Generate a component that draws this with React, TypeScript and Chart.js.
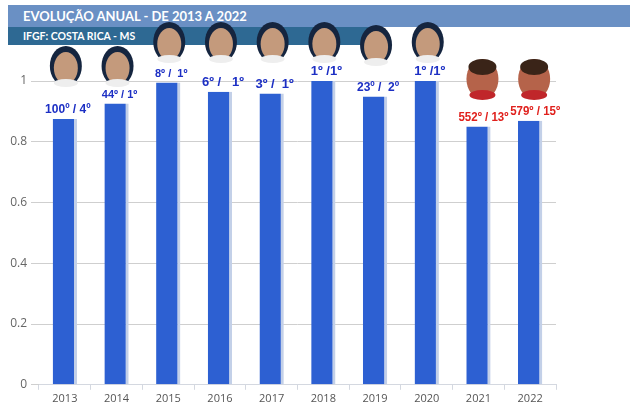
import { Chart, registerables, type ChartOptions, type Plugin } from 'chart.js';
import { type FC, useEffect, useRef } from 'react';

Chart.register(...registerables);

const years = ['2013', '2014', '2015', '2016', '2017', '2018', '2019', '2020', '2021', '2022'];
const ifgf = [0.875, 0.926, 0.995, 0.965, 0.959, 1.0, 0.949, 1.0, 0.85, 0.869];
const rankings = ['100º / 4º', '44º / 1º', '8º /  1º', '6º /   1º', '3º /  1º', '1º /1º', '23º /  2º', '1º /1º', '552º / 13º', '579º / 15º'];
const rankSizes = [12, 11, 11, 13, 13, 13, 12, 13, 13.5, 13.5];
const rankColors = ['#1c2fc4', '#1c2fc4', '#1c2fc4', '#1c2fc4', '#1c2fc4', '#1c2fc4', '#1c2fc4', '#1c2fc4', '#e0201c', '#e0201c'];
// linha dos retratos (decoração)
const faceRows = [66, 66, 42, 42, 42, 42, 45, 42, 79, 79];
const faceKinds = ['a', 'a', 'a', 'a', 'a', 'a', 'a', 'a', 'b', 'b'];

const rankLabels: Plugin<'bar'> = {
  id: 'rankLabels',
  afterDatasetsDraw(chart) {
    const { ctx } = chart;
    const meta = chart.getDatasetMeta(0);
    ctx.save();
    ctx.textAlign = 'center';
    ctx.textBaseline = 'bottom';
    meta.data.forEach((bar, i) => {
      ctx.font = `bold ${rankSizes[i]}px "Liberation Sans", Arial, sans-serif`;
      ctx.fillStyle = rankColors[i];
      // os rótulos vermelhos são mais estreitos no original
      ctx.fillText(rankings[i], bar.x + (i > 7 ? 5 : 3), bar.y - 3, 50);
    });
    ctx.restore();
  },
};

const faces: Plugin<'bar'> = {
  id: 'faces',
  afterDraw(chart) {
    const { ctx } = chart;
    const meta = chart.getDatasetMeta(0);
    ctx.save();
    meta.data.forEach((bar, i) => {
      const cx = bar.x + (i > 7 ? 4 : 1);
      const cy = faceRows[i];
      ctx.beginPath();
      ctx.ellipse(cx, cy, 16, 20, 0, 0, Math.PI * 2);
      if (faceKinds[i] === 'a') {
        ctx.fillStyle = '#15253f';
        ctx.fill();
        ctx.beginPath();
        ctx.ellipse(cx, cy + 2, 12, 16, 0, 0, Math.PI * 2);
        ctx.fillStyle = '#c49a7c';
        ctx.fill();
        ctx.beginPath();
        ctx.ellipse(cx, cy + 17, 12, 4, 0, 0, Math.PI * 2);
        ctx.fillStyle = '#eeeeee';
        ctx.fill();
      } else {
        ctx.fillStyle = '#b5634a';
        ctx.fill();
        ctx.beginPath();
        ctx.ellipse(cx, cy - 12, 14, 8, 0, 0, Math.PI * 2);
        ctx.fillStyle = '#3a2418';
        ctx.fill();
        ctx.beginPath();
        ctx.ellipse(cx, cy + 16, 13, 5, 0, 0, Math.PI * 2);
        ctx.fillStyle = '#c0262a';
        ctx.fill();
      }
    });
    ctx.restore();
  },
};

const options: ChartOptions<'bar'> = {
  animation: false,
  responsive: false,
  maintainAspectRatio: false,
  layout: { padding: { top: 81, right: 74, bottom: 10, left: 0 } },
  plugins: {
    legend: { display: false },
    tooltip: { enabled: false },
  },
  scales: {
    x: {
      grid: { offset: true, drawOnChartArea: false, drawTicks: true, tickLength: 5, color: '#d4d8e0' },
      border: { color: '#d4d8e0' },
      ticks: { color: '#555', font: { family: '"Open Sans", sans-serif', size: 11 }, padding: 2 },
    },
    y: {
      min: 0,
      max: 1,
      afterFit: (scale) => {
        scale.width = 39;
      },
      grid: { color: '#cfcfcf', tickLength: 8 },
      border: { display: false },
      ticks: {
        stepSize: 0.2,
        color: '#666',
        font: { family: '"Open Sans", sans-serif', size: 12 },
        padding: 4,
        callback: (v) => String(Number(Number(v).toFixed(1))),
      },
    },
  },
};

const App: FC = () => {
  const canvasRef = useRef<HTMLCanvasElement>(null);

  useEffect(() => {
    if (!canvasRef.current) return;
    const chart = new Chart(canvasRef.current, {
      type: 'bar',
      data: {
        labels: years,
        datasets: [
          {
            data: ifgf,
            backgroundColor: '#2d60d2',
            borderColor: '#c3d0e8',
            borderWidth: { right: 3, top: 0, left: 0, bottom: 0 },
            borderSkipped: false,
            categoryPercentage: 1,
            barPercentage: 0.47,
          },
        ],
      },
      options,
      plugins: [rankLabels, faces],
    });
    return () => chart.destroy();
  }, []);

  return (
    <div style={{ position: 'absolute', left: 0, top: 0, width: 630, height: 417, background: '#fff', overflow: 'hidden' }}>
      <div
        style={{
          position: 'absolute', left: 8, top: 5, width: 622, height: 22, background: '#6a90c4',
          color: '#fff', fontFamily: 'Lato, "Open Sans", sans-serif', fontWeight: 700, fontSize: 13,
          lineHeight: '23px', paddingLeft: 15, boxSizing: 'border-box',
        }}
      >
        EVOLUÇÃO ANUAL - DE 2013 A 2022
      </div>
      <div
        style={{
          position: 'absolute', left: 8, top: 27, width: 368, height: 18, background: '#2e6993',
          color: '#fff', fontFamily: 'Lato, "Open Sans", sans-serif', fontWeight: 700, fontSize: 10.5,
          lineHeight: '18px', paddingLeft: 15, boxSizing: 'border-box',
        }}
      >
        IFGF: COSTA RICA - MS
      </div>
      <canvas ref={canvasRef} width={630} height={417} style={{ position: 'absolute', left: 0, top: 0 }} />
    </div>
  );
};

export default App;
